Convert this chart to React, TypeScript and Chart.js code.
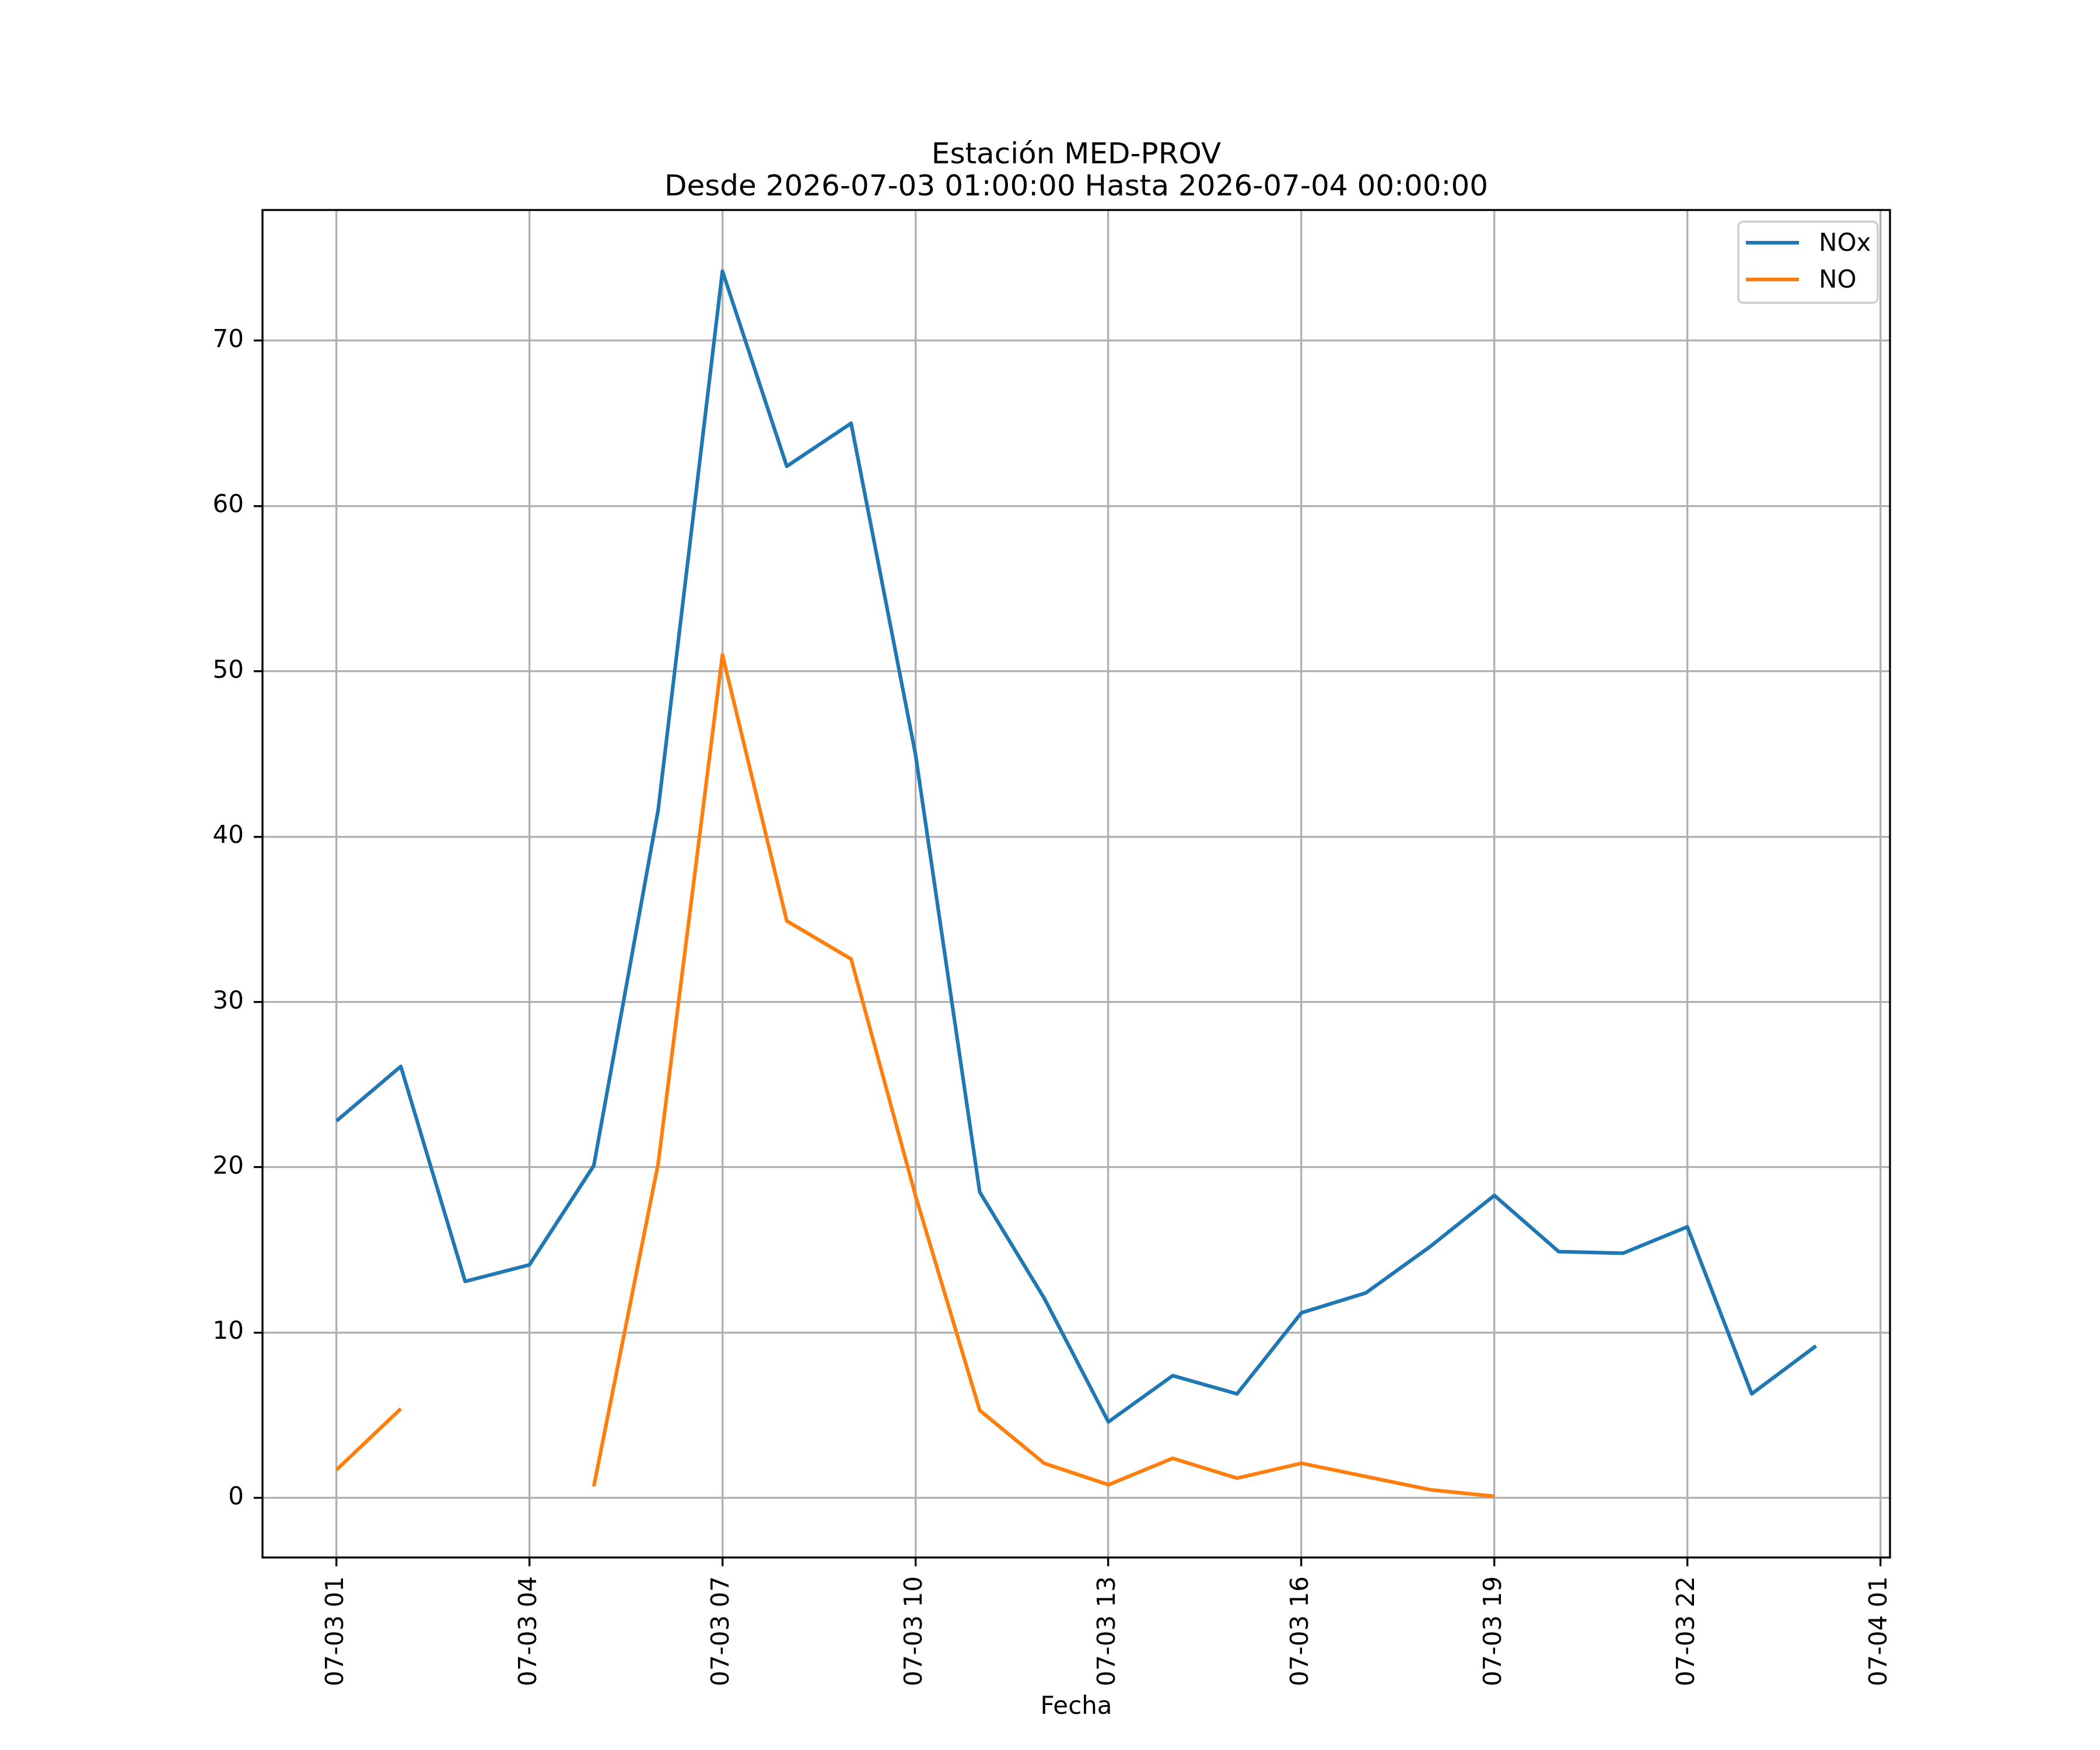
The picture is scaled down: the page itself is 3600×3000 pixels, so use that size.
import React, { useEffect, useRef } from 'react';
import Chart from 'chart.js/auto';

// hourly readings, 07-03 01:00 .. 07-04 00:00 (hour 24 = next day's 00)
const hours = [1, 2, 3, 4, 5, 6, 7, 8, 9, 10, 11, 12, 13, 14, 15, 16, 17, 18, 19, 20, 21, 22, 23, 24];
const noxValues = [22.8, 26.1, 13.1, 14.1, 20.1, 41.6, 74.2, 62.4, 65.0, 45.0, 18.5, 12.1,
  4.6, 7.4, 6.3, 11.2, 12.4, 15.2, 18.3, 14.9, 14.8, 16.4, 6.3, 9.2];
const noValues = [1.7, 5.4, null, null, 0.7, 20.2, 51.0, 34.9, 32.6, 18.3, 5.3, 2.1,
  0.8, 2.4, 1.2, 2.1, 1.3, 0.5, 0.1, null, null, null, null, null];

const seriesNames = ['NOx', 'NO'];
const seriesColors = ['#1f77b4', '#ff7f0e'];

const tickHours = [1, 4, 7, 10, 13, 16, 19, 22, 25];
const tickLabels = ['07-03 01', '07-03 04', '07-03 07', '07-03 10', '07-03 13',
  '07-03 16', '07-03 19', '07-03 22', '07-04 01'];
const yTicks = [0, 10, 20, 30, 40, 50, 60, 70];

const titleLines = ['Estación MED-PROV', 'Desde 2026-07-03 01:00:00 Hasta 2026-07-04 00:00:00'];
const xTitle = 'Fecha';

const FONT = '"DejaVu Sans", sans-serif';
Chart.defaults.font.family = FONT;
Chart.defaults.color = '#000';

// spines, title and boxed legend drawn the matplotlib way
const decorPlugin = {
  id: 'decor',
  afterDraw(chart: Chart) {
    const { ctx, chartArea: a } = chart;
    ctx.save();

    ctx.strokeStyle = '#000';
    ctx.lineWidth = 3.33;
    ctx.strokeRect(a.left, a.top, a.right - a.left, a.bottom - a.top);

    ctx.fillStyle = '#000';
    ctx.font = `50px ${FONT}`;
    ctx.textAlign = 'center';
    ctx.textBaseline = 'alphabetic';
    const cx = (a.left + a.right) / 2;
    ctx.fillText(titleLines[0], cx, a.top - 80);
    ctx.fillText(titleLines[1], cx, a.top - 25);

    const lw = 239, lh = 139;
    const lx = a.right - 21 - lw, ly = a.top + 20;
    const r = 8;
    ctx.beginPath();
    ctx.moveTo(lx + r, ly);
    ctx.arcTo(lx + lw, ly, lx + lw, ly + lh, r);
    ctx.arcTo(lx + lw, ly + lh, lx, ly + lh, r);
    ctx.arcTo(lx, ly + lh, lx, ly, r);
    ctx.arcTo(lx, ly, lx + lw, ly, r);
    ctx.closePath();
    ctx.fillStyle = 'rgba(255,255,255,0.8)';
    ctx.fill();
    ctx.strokeStyle = '#cccccc';
    ctx.lineWidth = 3.33;
    ctx.stroke();

    ctx.font = `42px ${FONT}`;
    ctx.textAlign = 'left';
    chart.data.datasets.forEach((ds: any, i: number) => {
      const y = ly + 36 + i * 63;
      ctx.strokeStyle = ds.borderColor;
      ctx.lineWidth = 6.25;
      ctx.beginPath();
      ctx.moveTo(lx + 13, y);
      ctx.lineTo(lx + 104, y);
      ctx.stroke();
      ctx.fillStyle = '#000';
      ctx.fillText(ds.label, lx + 138, y + 14);
    });
    ctx.restore();
  },
};

const gridOpts = {
  color: '#b0b0b0',
  lineWidth: 3.33,
  tickColor: '#000',
  tickLength: 15,
  tickWidth: 3.33,
};

export default function App() {
  const canvasRef = useRef<HTMLCanvasElement>(null);
  const chartRef = useRef<Chart>();

  useEffect(() => {
    if (!canvasRef.current) return;
    const ctx = canvasRef.current.getContext('2d');
    if (!ctx) return;
    if (chartRef.current) chartRef.current.destroy();

    chartRef.current = new Chart(ctx, {
      type: 'line',
      data: {
        datasets: [noxValues, noValues].map((vals, i) => ({
          label: seriesNames[i],
          data: hours.map((h, j) => ({ x: h, y: vals[j] })),
          borderColor: seriesColors[i],
          backgroundColor: seriesColors[i],
          borderWidth: 6.25,
          borderJoinStyle: 'round',
          pointRadius: 0,
          tension: 0,
          spanGaps: false,
          fill: false,
        })),
      },
      options: {
        animation: false,
        responsive: false,
        devicePixelRatio: 1,
        layout: { padding: { top: 360, right: 360, bottom: 44, left: 0 } },
        plugins: {
          legend: { display: false },
          title: { display: false },
          tooltip: { enabled: false },
        },
        scales: {
          x: {
            type: 'linear',
            bounds: 'data',
            min: -0.15,
            max: 25.15,
            afterBuildTicks: (s: any) => { s.ticks = tickHours.map((v) => ({ value: v })); },
            afterFit: (s: any) => { s.height = 286; },
            ticks: {
              autoSkip: false,
              minRotation: 90,
              maxRotation: 90,
              padding: 17,
              font: { size: 42 },
              color: '#000',
              callback: (_v: any, i: number) => tickLabels[i],
            },
            grid: gridOpts,
            border: { display: false },
            title: {
              display: true,
              text: xTitle,
              font: { size: 42 },
              color: '#000',
              padding: { top: 0, bottom: 4 },
            },
          },
          y: {
            type: 'linear',
            bounds: 'data',
            min: -3.6,
            max: 77.9,
            afterBuildTicks: (s: any) => { s.ticks = yTicks.map((v) => ({ value: v })); },
            afterFit: (s: any) => { s.width = 450; },
            ticks: {
              padding: 17,
              font: { size: 42 },
              color: '#000',
              callback: (v: any) => String(v),
            },
            grid: gridOpts,
            border: { display: false },
          },
        },
      },
      plugins: [decorPlugin],
    } as any);

    return () => {
      if (chartRef.current) {
        chartRef.current.destroy();
        chartRef.current = undefined;
      }
    };
  }, []);

  return (
    <div style={{ position: 'absolute', left: 0, top: 0, width: 3600, height: 3000, background: '#fff' }}>
      <canvas ref={canvasRef} width={3600} height={3000} style={{ display: 'block' }} />
    </div>
  );
}
